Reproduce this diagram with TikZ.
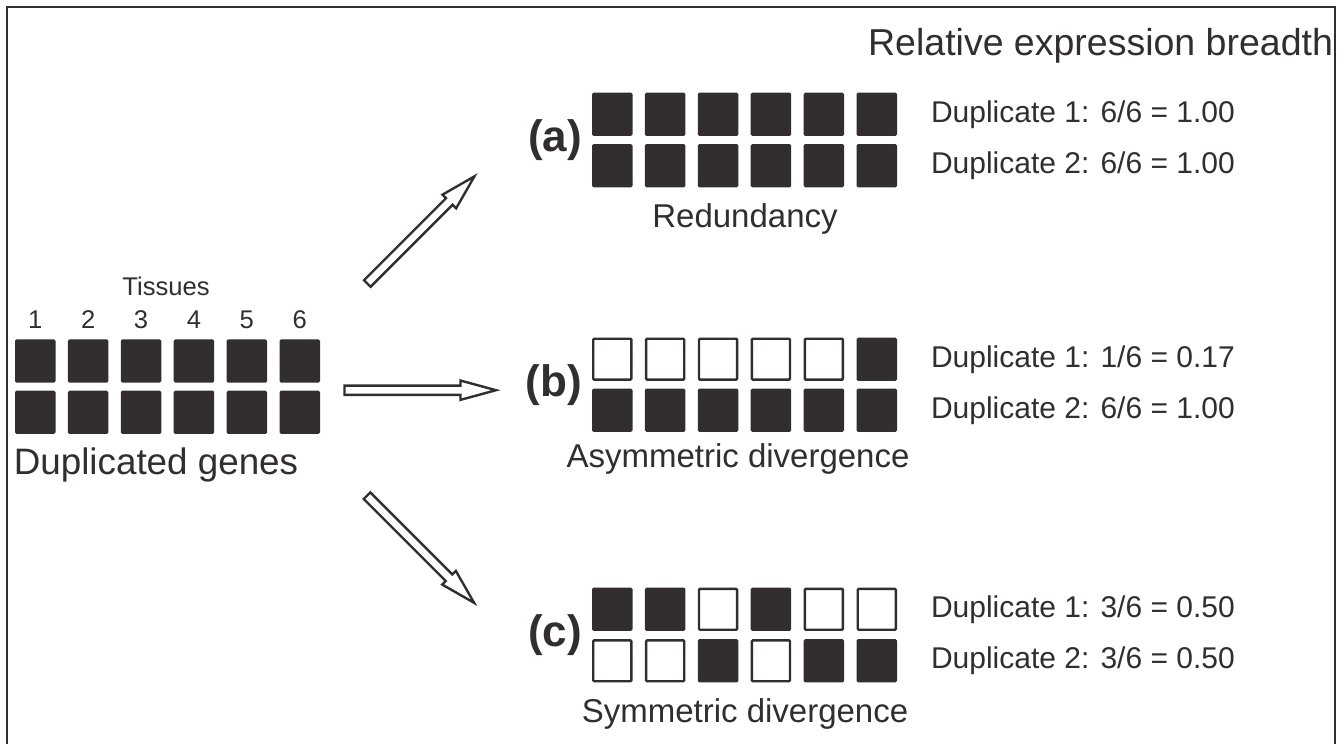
\documentclass[tikz,border=0pt]{standalone}
\usepackage{fontspec}
\setmainfont{Liberation Sans}
\definecolor{ink}{RGB}{50,46,46}
\newcommand\fsz[1]{\fontsize{#1}{#1}\selectfont}
\tikzset{
  sqfill/.style={fill=ink, draw=none, rounded corners=1.5pt, minimum width=40.5pt, minimum height=43.3pt, inner sep=0pt, outer sep=0pt},
  sqopen/.style={fill=white, draw=ink, line width=2.4pt, rounded corners=1pt, minimum width=38.1pt, minimum height=40.9pt, inner sep=0pt, outer sep=0pt},
  lbl/.style={inner sep=0pt, outer sep=0pt, text=ink},
  blk/.style={draw=ink, line width=2.4pt, fill=white, line join=miter},
}
% prefix, x of first centre, y centre, pattern (1 filled, 0 open)
\newcommand\sqrow[4]{%
  \foreach \t [count=\i] in {#4} {%
    \ifnum\t=1
      \node[sqfill] (#1-\i) at ({#2+(\i-1)*52.9}, #3) {};
    \else
      \node[sqopen] (#1-\i) at ({#2+(\i-1)*52.9}, #3) {};
    \fi
  }%
}
% block arrow from a named tail coordinate, with an angle
\newcommand\blockarrow[2]{%
  \begin{scope}[shift={(#1)}, rotate=#2]
    \draw[blk] (0,-4.65) -- (116,-4.65) -- (116,-9.65) -- (151.5,0) -- (116,9.65) -- (116,4.65) -- (0,4.65) -- cycle;
  \end{scope}%
}
\begin{document}
\begin{tikzpicture}[x=1pt,y=-1pt]
\useasboundingbox (0,0) rectangle (1344,744);
\fill[white] (0,0) rectangle (1344,744);
\draw[ink, line width=1.3pt] (7,744) -- (7,7) -- (1335,7) -- (1335,744);

\node[lbl, font=\fsz{37.5}, anchor=base east] (title) at (1333,55) {Relative expression breadth};

% left group
\node[lbl, font=\fsz{25.6}, anchor=base] (tissues) at (166,295) {Tissues};
\foreach \i in {1,...,6}
  \node[lbl, font=\fsz{25.6}, anchor=base] (num\i) at ({35.25+(\i-1)*52.9},328.3) {\i};
\sqrow{g1}{35.25}{361}{1,1,1,1,1,1}
\sqrow{g2}{35.25}{412.3}{1,1,1,1,1,1}
\node[lbl, font=\fsz{36.8}, anchor=base] (dup) at (156,474) {Duplicated genes};

% arrows
\coordinate (upTail) at (367.3,283.5);
\coordinate (midTail) at (344.5,390.2);
\coordinate (downTail) at (367,495.7);
\blockarrow{upTail}{45}
\blockarrow{midTail}{0}
\blockarrow{downTail}{-45}

% group (a)
\node[lbl, font=\fsz{44}\bfseries, anchor=east] (la) at (582,140) {(a)};
\sqrow{a1}{612.25}{114.3}{1,1,1,1,1,1}
\sqrow{a2}{612.25}{165.7}{1,1,1,1,1,1}
\node[lbl, font=\fsz{33}, anchor=base] (capa) at (745,227) {Redundancy};
\node[lbl, font=\fsz{30}, anchor=base west] (ta1) at (931,122.3) {Duplicate 1: 6/6 = 1.00};
\node[lbl, font=\fsz{30}, anchor=base west] (ta2) at (931,173.7) {Duplicate 2: 6/6 = 1.00};

% group (b)
\node[lbl, font=\fsz{44}\bfseries, anchor=east] (lb) at (582,385) {(b)};
\sqrow{b1}{612.25}{359.2}{0,0,0,0,0,1}
\sqrow{b2}{612.25}{410.2}{1,1,1,1,1,1}
\node[lbl, font=\fsz{33}, anchor=base] (capb) at (738,467) {Asymmetric divergence};
\node[lbl, font=\fsz{30}, anchor=base west] (tb1) at (931,367.2) {Duplicate 1: 1/6 = 0.17};
\node[lbl, font=\fsz{30}, anchor=base west] (tb2) at (931,418.2) {Duplicate 2: 6/6 = 1.00};

% group (c)
\node[lbl, font=\fsz{44}\bfseries, anchor=east] (lc) at (582,635) {(c)};
\sqrow{c1}{612.25}{609.3}{1,1,0,1,0,0}
\sqrow{c2}{612.25}{660.8}{0,0,1,0,1,1}
\node[lbl, font=\fsz{33}, anchor=base] (capc) at (745,722.7) {Symmetric divergence};
\node[lbl, font=\fsz{30}, anchor=base west] (tc1) at (931,617.3) {Duplicate 1: 3/6 = 0.50};
\node[lbl, font=\fsz{30}, anchor=base west] (tc2) at (931,668.8) {Duplicate 2: 3/6 = 0.50};
\end{tikzpicture}
\end{document}
